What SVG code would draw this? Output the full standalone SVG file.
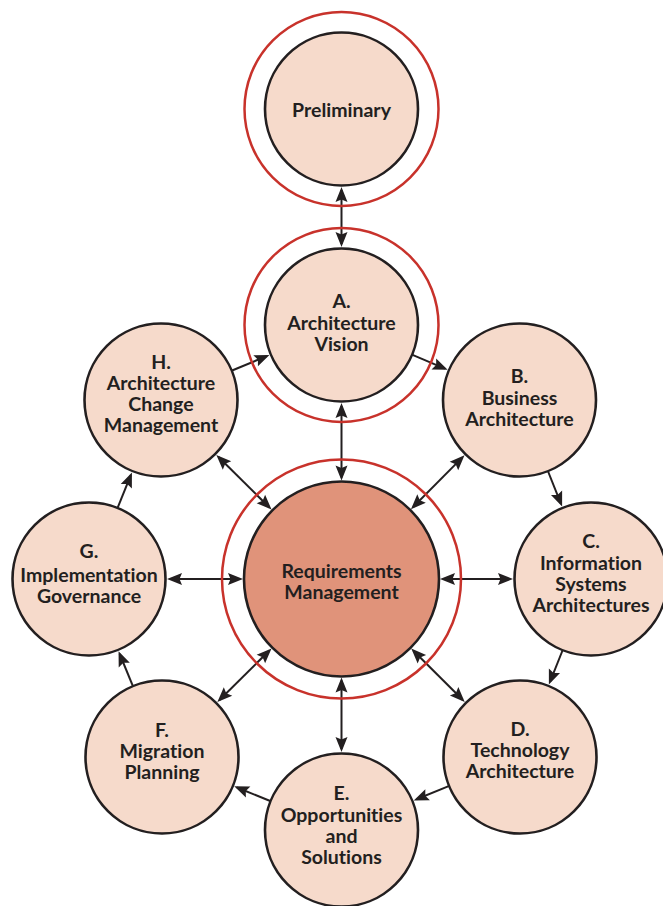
<svg xmlns="http://www.w3.org/2000/svg" width="663" height="906" viewBox="0 0 663 906">
<defs>
<style>
.ring{fill:none;stroke:#C8322B;stroke-width:2.5}
.node{fill:#F6DACB;stroke:#231F20;stroke-width:2.6}
.core{fill:#E0937A;stroke:#231F20;stroke-width:2.6}
.lbl{font-family:Lato,"Liberation Sans",sans-serif;font-weight:700;font-size:19.5px;fill:#231F20;text-anchor:middle;font-variant-ligatures:none}
.edge{fill:none;stroke:#231F20;stroke-width:2}
.one{marker-end:url(#ah)}
.two{marker-start:url(#ah);marker-end:url(#ah)}
</style>
<marker id="ah" markerUnits="userSpaceOnUse" viewBox="0 -7 16 14" markerWidth="16" markerHeight="14" refX="12" refY="0" orient="auto-start-reverse" overflow="visible">
<path d="M15,0 L0,-6 L2.5,0 L0,6 Z" fill="#231F20"/>
</marker>
</defs>
<rect width="663" height="906" fill="#FFFFFF"/>
<g id="connectors">
<path class="edge two" d="M341.5,190 L341.5,244"/>
<path class="edge two" d="M341.5,406 L341.5,477.5"/>
<path class="edge two" d="M341.5,680.5 L341.5,749"/>
<path class="edge two" d="M170,579 L240,579"/>
<path class="edge two" d="M443,579 L510,579"/>
<path class="edge two" d="M413.1,507 L462.4,457.4"/>
<path class="edge two" d="M269.4,507.5 L218.5,457"/>
<path class="edge two" d="M413.4,650.7 L462.6,699.8"/>
<path class="edge two" d="M269.4,650.5 L219.5,700"/>
<path class="edge one" d="M412.5,354.9 L444.9,368.6"/>
<path class="edge one" d="M548.1,471.5 L561,503.8"/>
<path class="edge one" d="M562.5,650.5 L550,681.8"/>
<path class="edge one" d="M448.7,786.1 L416.5,799.3"/>
<path class="edge one" d="M270.2,801 L237,787.5"/>
<path class="edge one" d="M132.8,685.8 L119.7,654"/>
<path class="edge one" d="M117.7,507.6 L130.8,475.2"/>
<path class="edge one" d="M232.1,370.5 L266.7,356.1"/>
</g>
<g id="preliminary">
<circle class="ring" cx="341.5" cy="109" r="97"/>
<circle class="node" cx="341.5" cy="109" r="76.5"/>
<text class="lbl" x="341.5" y="117">Preliminary</text>
</g>
<g id="a-architecture-vision">
<circle class="ring" cx="341.5" cy="325" r="97"/>
<circle class="node" cx="341.5" cy="325" r="76.5"/>
<text class="lbl" x="341.5" y="308">A.</text>
<text class="lbl" x="341.5" y="330">Architecture</text>
<text class="lbl" x="341.5" y="351">Vision</text>
</g>
<g id="requirements-management">
<circle class="ring" cx="341.5" cy="579" r="119.5"/>
<circle class="core" cx="341.5" cy="579" r="97.5"/>
<text class="lbl" x="341.5" y="578">Requirements</text>
<text class="lbl" x="341.5" y="599">Management</text>
</g>
<g id="b-business-architecture">
<circle class="node" cx="519.5" cy="400" r="76.5"/>
<text class="lbl" x="519.5" y="383">B.</text>
<text class="lbl" x="519.5" y="405">Business</text>
<text class="lbl" x="519.5" y="426">Architecture</text>
</g>
<g id="c-information-systems-architectures">
<circle class="node" cx="591" cy="579" r="76.5"/>
<text class="lbl" x="591" y="548">C.</text>
<text class="lbl" x="591" y="570">Information</text>
<text class="lbl" x="591" y="591">Systems</text>
<text class="lbl" x="591" y="612">Architectures</text>
</g>
<g id="d-technology-architecture">
<circle class="node" cx="520" cy="757" r="76.5"/>
<text class="lbl" x="520" y="736">D.</text>
<text class="lbl" x="520" y="757">Technology</text>
<text class="lbl" x="520" y="778">Architecture</text>
</g>
<g id="e-opportunities-and-solutions">
<circle class="node" cx="341.5" cy="830" r="76.5"/>
<text class="lbl" x="341.5" y="800">E.</text>
<text class="lbl" x="341.5" y="822">Opportunities</text>
<text class="lbl" x="341.5" y="843">and</text>
<text class="lbl" x="341.5" y="864">Solutions</text>
</g>
<g id="f-migration-planning">
<circle class="node" cx="162" cy="757" r="76.5"/>
<text class="lbl" x="162" y="737">F.</text>
<text class="lbl" x="162" y="758">Migration</text>
<text class="lbl" x="162" y="779">Planning</text>
</g>
<g id="g-implementation-governance">
<circle class="node" cx="89" cy="579" r="76.5"/>
<text class="lbl" x="89" y="558">G.</text>
<text class="lbl" x="89" y="582">Implementation</text>
<text class="lbl" x="89" y="603">Governance</text>
</g>
<g id="h-architecture-change-management">
<circle class="node" cx="161" cy="400" r="76.5"/>
<text class="lbl" x="161" y="369">H.</text>
<text class="lbl" x="161" y="390">Architecture</text>
<text class="lbl" x="161" y="411">Change</text>
<text class="lbl" x="161" y="432">Management</text>
</g>
</svg>
